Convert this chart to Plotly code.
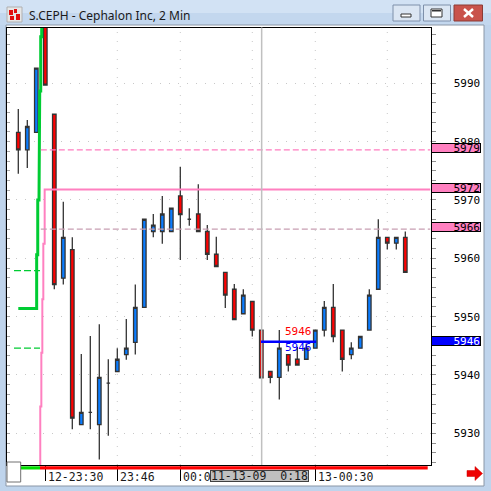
import plotly.graph_objects as go

# ---------------- data ----------------
bar_index = list(range(44))  # 2-minute bars, 23:24 (11-12-09) .. 00:50 (11-13-09)
opens = [5981.6, 5978.6, 5981.6, 6003.0, 5984.7, 5956.6, 5961.5, 5931.5, 5933.6, 5931.5,
         5938.6, 5940.6, 5943.5, 5945.6, 5951.6, 5964.6, 5964.6, 5964.6, 5970.7, 5966.7,
         5967.6, 5964.6, 5960.7, 5957.6, 5954.7, 5950.5, 5952.6, 5947.7, 5940.6, 5939.6,
         5943.5, 5942.7, 5942.7, 5944.6, 5947.7, 5951.6, 5947.7, 5943.5, 5944.6, 5947.7,
         5954.7, 5963.6, 5962.6, 5963.6]
highs = [5985.6, 5983.7, 5992.6, 6005.0, 5984.7, 5969.7, 5963.6, 5943.6, 5946.7, 5948.7,
         5942.7, 5944.6, 5949.6, 5955.5, 5966.7, 5967.6, 5970.7, 5968.6, 5975.7, 5968.6,
         5972.7, 5965.7, 5963.7, 5957.6, 5955.6, 5954.7, 5952.6, 5947.7, 5940.6, 5947.7,
         5943.5, 5944.8, 5945.4, 5947.7, 5952.7, 5955.6, 5947.7, 5945.6, 5946.6, 5954.7,
         5966.7, 5963.6, 5963.6, 5964.6]
lows = [5974.5, 5975.5, 5981.6, 5989.7, 5954.7, 5955.5, 5930.7, 5931.5, 5930.7, 5925.5,
        5929.6, 5940.6, 5942.6, 5943.5, 5951.6, 5963.6, 5962.5, 5964.6, 5959.7, 5965.6,
        5964.6, 5959.7, 5958.6, 5951.5, 5949.5, 5950.5, 5946.6, 5939.5, 5938.6, 5935.8,
        5940.6, 5941.7, 5942.7, 5944.6, 5946.6, 5945.6, 5940.6, 5942.7, 5944.6, 5947.7,
        5954.7, 5961.5, 5961.5, 5957.6]
closes = [5978.6, 5982.6, 5992.6, 5989.7, 5955.5, 5963.6, 5932.6, 5933.6, 5933.6, 5939.6,
          5938.6, 5942.7, 5944.6, 5951.6, 5966.7, 5965.7, 5967.6, 5968.6, 5967.5, 5966.7,
          5964.6, 5960.7, 5958.6, 5953.7, 5949.5, 5953.7, 5947.7, 5939.5, 5939.6, 5944.6,
          5941.7, 5941.7, 5944.6, 5947.7, 5951.6, 5946.6, 5942.7, 5944.6, 5946.6, 5953.7,
          5963.6, 5962.6, 5963.6, 5957.6]

price_ticks = [5930, 5940, 5950, 5960, 5970, 5980, 5990]
price_tick_labels = ["5930", "5940", "5950", "5960", "5970", "5980", "5990"]

time_tick_bars = [3, 11, 18, 33]
time_tick_labels = ["12-23:30", "23:46", "00:00", "13-00:30"]
grid_bars = [11, 18, 26, 33, 41]

cursor_bar = 27.04
cursor_label = "11-13-09\u00a0\u00a00:18"

# indicator profiles (left side)
green_profile_x = [2.6, 2.6, 2.49, 2.49, 2.38, 2.38, 2.3, 2.3, 2.16, 2.16, 2.04, 2.04, 0.0]
green_profile_y = [6003, 5998.0, 5998.0, 5988.7, 5988.7, 5979.3, 5979.3, 5970.0, 5970.0,
                   5960.6, 5960.6, 5951.4, 5951.4]
green_levels = [5957.9, 5944.6]
green_level_from, green_level_to = -0.48, 2.41

pink_profile_x = [45.8, 2.97, 2.93, 2.93, 2.78, 2.78, 2.67, 2.67, 2.56, 2.56, 2.44, 2.44]
pink_profile_y = [5971.8, 5971.8, 5971.8, 5962.5, 5962.5, 5953.0, 5953.0, 5943.8, 5943.8,
                  5934.6, 5934.6, 5920.0]

dash_levels = [5978.6, 5965.0]
dash_colors = ["#ff7cc0", "#c89eb2"]
dash_from = 2.5

level_boxes = [5978.9, 5972.0, 5965.3, 5945.9]
level_box_text = ["5979", "5972", "5966", "5946"]
level_box_fill = ["#ff80c0", "#ff80c0", "#ff80c0", "#0000ff"]
level_box_font = ["#000000", "#000000", "#000000", "#ffffff"]

order_price = 5945.7
order_from, order_to = 26.97, 33.08
order_text_bar = 29.38
order_text_prices = [5947.4, 5944.7]
order_text_colors = ["#ff0000", "#0000ff"]

# ---------------- geometry helpers (window chrome only) ----------------
W = H = 491
def X(px): return px / W
def Y(py): return 1 - py / H

x_range = [-1.256, 45.8]
y_range = [5924.57, 5999.57]
x_dom = [X(7), X(430.5)]
y_dom = [Y(465), Y(27.5)]

MONO = "DejaVu Sans Mono"

fig = go.Figure()

fig.add_trace(go.Candlestick(
    x=bar_index, open=opens, high=highs, low=lows, close=closes,
    increasing=dict(fillcolor="#0a7cff", line=dict(color="#333333", width=1.3)),
    decreasing=dict(fillcolor="#ff0000", line=dict(color="#333333", width=1.3)),
    whiskerwidth=0, hoverinfo="skip", showlegend=False))

fig.add_trace(go.Scatter(x=green_profile_x, y=green_profile_y, mode="lines",
                         line=dict(color="#00cc33", width=3), hoverinfo="skip", showlegend=False))
fig.add_trace(go.Scatter(x=pink_profile_x, y=pink_profile_y, mode="lines",
                         line=dict(color="#ff80c0", width=2), hoverinfo="skip", showlegend=False))
fig.add_trace(go.Scatter(x=[None], y=[None], yaxis="y2", hoverinfo="skip", showlegend=False))

shapes = []
annotations = []

def rect(x0, y0, x1, y1, fill, line=None, lw=1, layer="above"):
    shapes.append(dict(type="rect", xref="paper", yref="paper", x0=X(x0), x1=X(x1),
                       y0=Y(y1), y1=Y(y0), fillcolor=fill,
                       line=dict(color=line or fill, width=lw if line else 0), layer=layer))

# window chrome
rect(0, 0, 491, 13, "#d2e2f4", layer="below")
rect(0, 13, 491, 25, "#c3d7ee", layer="below")
rect(6, 25, 484, 486, "#ffffff", "#8a96a6", 1, layer="below")

# icon
rect(7, 7, 22, 22, "#e6e6e6", "#b0b0b0", 1)
rect(9, 10, 13, 15, "#e01010")
rect(14, 9, 17, 13, "#e01010")
rect(16, 14, 20, 20, "#e01010")
rect(10, 16, 14, 20, "#e01010")

# buttons
rect(393, 5, 420, 21, "#dbe6f3", "#7e90aa", 1)
rect(401, 14, 411, 17, "#ffffff", "#333333", 1)
rect(423.5, 5, 450.5, 21, "#dbe6f3", "#7e90aa", 1)
rect(431, 9, 442, 17, "#ffffff", "#333333", 1)
rect(432, 10, 441, 11.5, "#333333")
rect(454, 5, 482.5, 21, "#c9524b", "#8b3b35", 1)
for (a, b, c, d) in [(464, 9, 473, 17), (464, 17, 473, 9)]:
    shapes.append(dict(type="line", xref="paper", yref="paper", x0=X(a), y0=Y(b), x1=X(c), y1=Y(d),
                       line=dict(color="#ffffff", width=2.5)))

annotations.append(dict(xref="paper", yref="paper", x=X(27), y=Y(15), xanchor="left", yanchor="middle",
                        text="S.CEPH - Cephalon Inc, 2 Min", showarrow=False,
                        font=dict(family="Noto Sans", size=12, color="#1a1a1a")))

# vertical dotted grid
for g in grid_bars:
    shapes.append(dict(type="line", xref="x", yref="paper", x0=g, x1=g, y0=y_dom[0], y1=y_dom[1],
                       line=dict(color="#c8c8c8", width=1, dash="1px,8px"), layer="below"))

# dashed levels
for lv, col in zip(dash_levels, dash_colors):
    shapes.append(dict(type="line", xref="x", yref="y", x0=dash_from, x1=x_range[1], y0=lv, y1=lv,
                       line=dict(color=col, width=1.2, dash="6px,3px")))
for lv in green_levels:
    shapes.append(dict(type="line", xref="x", yref="y", x0=green_level_from, x1=green_level_to,
                       y0=lv, y1=lv, line=dict(color="#00cc33", width=1.3, dash="7px,3px")))

# cursor line
shapes.append(dict(type="line", xref="x", yref="paper", x0=cursor_bar, x1=cursor_bar,
                   y0=y_dom[0], y1=y_dom[1], line=dict(color="#c0c0c0", width=1.5)))
# order line
shapes.append(dict(type="line", xref="x", yref="y", x0=order_from, x1=order_to,
                   y0=order_price, y1=order_price, line=dict(color="#0000ff", width=2.5)))
for p, col in zip(order_text_prices, order_text_colors):
    annotations.append(dict(xref="x", yref="y", x=order_text_bar, y=p, xanchor="left", yanchor="middle",
                            text="5946", showarrow=False, font=dict(family=MONO, size=11, color=col)))

# bottom session bar
rect(20.7, 466.3, 40, 469.5, "#00dd00")
rect(40, 466.3, 427.7, 469.5, "#ff0000")
# bottom-left square
rect(7, 462, 20.7, 482, "#ffffff", "#707070", 1)

# x labels
for b, t in zip(time_tick_bars, time_tick_labels):
    annotations.append(dict(xref="x", yref="paper", x=b, y=Y(476.5), xanchor="left", yanchor="middle",
                            xshift=1, text=t, showarrow=False,
                            font=dict(family=MONO, size=11.5, color="#1a1a1a")))
annotations.append(dict(xref="paper", yref="paper", x=X(210), y=Y(476.2), xanchor="left",
                        yanchor="middle", text=cursor_label, showarrow=False, align="left",
                        width=97, height=10, bgcolor="#c0c0c0", bordercolor="#404040",
                        borderwidth=1, borderpad=0,
                        font=dict(family=MONO, size=11.5, color="#1a1a1a")))

# level boxes on price axis
for p, t, f, fc in zip(level_boxes, level_box_text, level_box_fill, level_box_font):
    annotations.append(dict(xref="paper", yref="y", x=X(431), y=p, xanchor="left", yanchor="middle",
                            text=t, showarrow=False, align="right", width=48, height=8,
                            bgcolor=f, bordercolor="#000000", borderwidth=1, borderpad=0,
                            font=dict(family=MONO, size=11, color=fc)))

# red arrow
pts = [(467, 470.5), (475, 470.5), (475, 466.5), (482.5, 473.5), (475, 480.5), (475, 476.5), (467, 476.5)]
path = "M " + " L ".join(f"{X(a):.5f},{Y(b):.5f}" for a, b in pts) + " Z"
shapes.append(dict(type="path", xref="paper", yref="paper", path=path, fillcolor="#ee0000",
                   line=dict(color="#cc0000", width=0.5)))

fig.update_layout(
    width=W, height=H, autosize=False,
    margin=dict(l=0, r=0, t=0, b=0, pad=0),
    paper_bgcolor="#bfd4ec", plot_bgcolor="#ffffff",
    showlegend=False, boxgap=0.44,
    shapes=shapes, annotations=annotations,
    xaxis=dict(domain=x_dom, range=x_range, showgrid=False, zeroline=False,
               tickmode="array", tickvals=time_tick_bars, ticks="outside", ticklen=15,
               tickcolor="#000000", tickwidth=1, showticklabels=False,
               showline=True, linecolor="#000000", linewidth=1, mirror=True,
               rangeslider=dict(visible=False), fixedrange=True),
    yaxis=dict(domain=y_dom, range=y_range, side="right", anchor="x",
               tickmode="array", tickvals=price_ticks, ticktext=price_tick_labels,
               ticks="outside", ticklen=4, tickcolor="#909090",
               minor=dict(tickmode="linear", tick0=5930, dtick=10 / 6, ticks="outside",
                          ticklen=4, tickcolor="#909090", showgrid=False),
               showgrid=True, gridcolor="#c8c8c8", griddash="1px,8px", gridwidth=1,
               zeroline=False, showline=True, linecolor="#000000", linewidth=1, mirror=True,
               tickfont=dict(family=MONO, size=11, color="#000000"),
               ticklabelstandoff=16, fixedrange=True),
    yaxis2=dict(overlaying="y", matches="y", side="left", anchor="x",
                tickmode="linear", tick0=5930, dtick=10 / 6, ticks="inside", ticklen=3,
                tickcolor="#a8a8a8", showticklabels=False, showgrid=False, zeroline=False,
                showline=False, fixedrange=True),
)

fig.write_html("out.html", config={"displayModeBar": False},
               post_script="document.body.style.margin='0';document.body.style.overflow='hidden';")
